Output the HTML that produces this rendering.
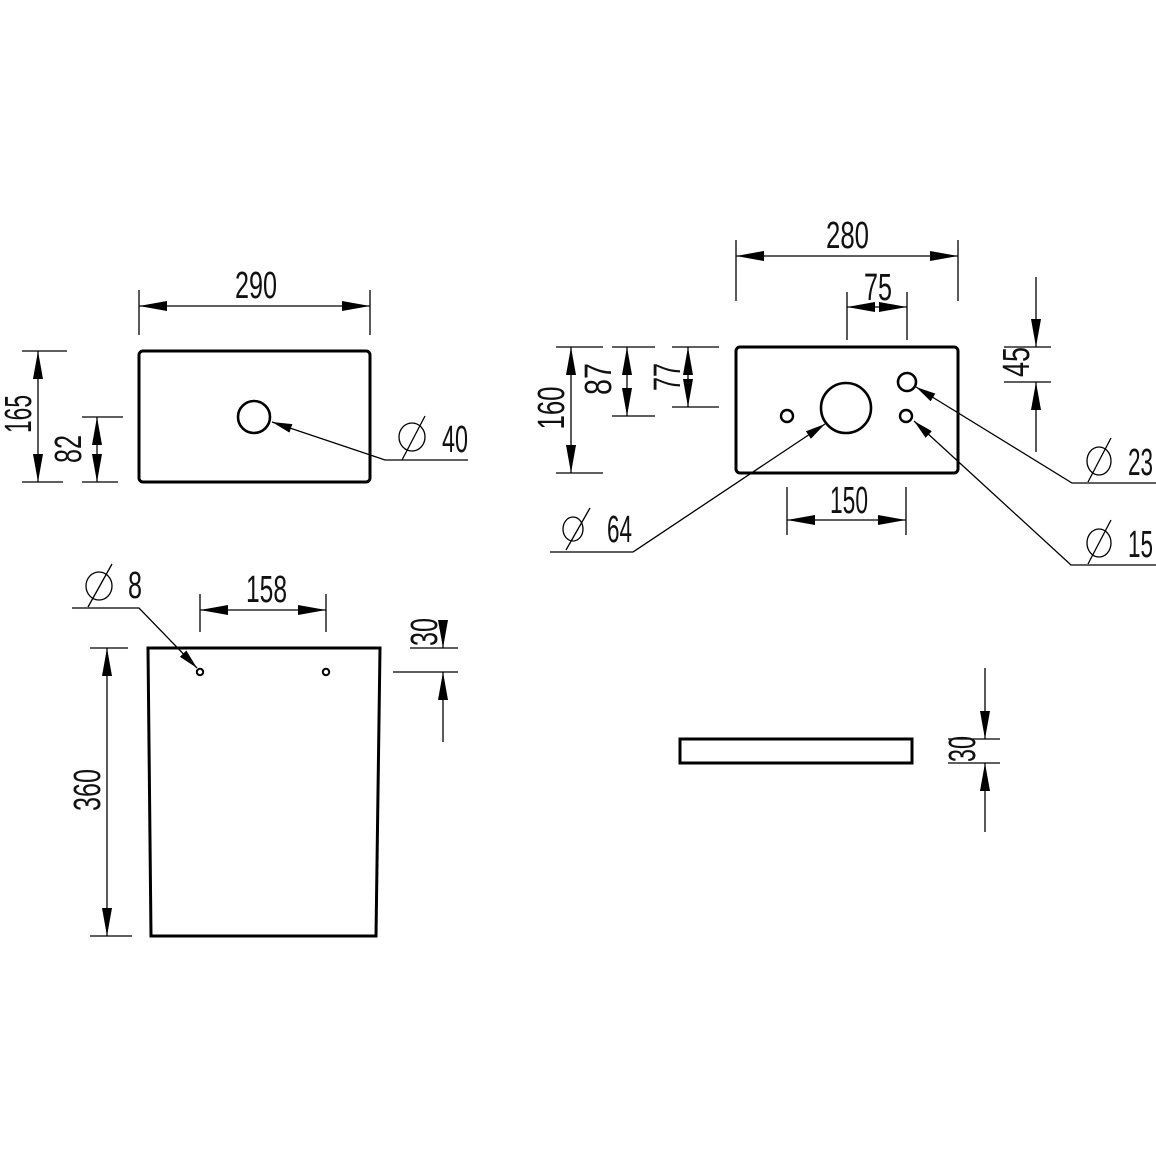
<!DOCTYPE html>
<html><head><meta charset="utf-8"><style>
html,body{margin:0;padding:0;background:#fff;}
svg{display:block}
text{font-family:"Liberation Sans",sans-serif;fill:#111;}
</style></head><body>
<svg width="1156" height="1156" viewBox="0 0 1156 1156" xmlns="http://www.w3.org/2000/svg">
<defs>
<marker id="a" markerUnits="userSpaceOnUse" markerWidth="28" markerHeight="10" refX="28" refY="5" orient="auto-start-reverse"><path d="M0,0 L28,5 L0,10 z" fill="#000"/></marker>
<marker id="l" markerUnits="userSpaceOnUse" markerWidth="20" markerHeight="9" refX="20" refY="4.5" orient="auto-start-reverse"><path d="M0,0 L20,4.5 L0,9 z" fill="#000"/></marker>
</defs>
<g stroke="#000" fill="none" stroke-width="1.3">
<!-- View 1 -->
<rect x="139" y="351" width="231" height="131" rx="4" stroke-width="3"/>
<circle cx="254" cy="417" r="16" stroke-width="2.6"/>
<line x1="139" y1="290" x2="139" y2="335"/><line x1="370" y1="290" x2="370" y2="335"/>
<line x1="139" y1="306" x2="370" y2="306" marker-start="url(#a)" marker-end="url(#a)"/>
<line x1="22" y1="351" x2="67" y2="351"/><line x1="22" y1="482" x2="63" y2="482"/>
<line x1="38" y1="351" x2="38" y2="482" marker-start="url(#a)" marker-end="url(#a)"/>
<line x1="82" y1="417" x2="123" y2="417"/><line x1="82" y1="482" x2="118" y2="482"/>
<line x1="97" y1="417" x2="97" y2="482" marker-start="url(#a)" marker-end="url(#a)"/>
<polyline points="468,460 385,460 272,422" marker-end="url(#l)"/>
<ellipse cx="412" cy="437" rx="13" ry="14"/><line x1="425" y1="416" x2="402" y2="460"/>

<!-- View 2 -->
<rect x="736" y="347" width="222" height="126" rx="4" stroke-width="3"/>
<circle cx="846" cy="408" r="25" stroke-width="2.6"/>
<circle cx="787" cy="416" r="6" stroke-width="2.4"/>
<circle cx="907" cy="382" r="9" stroke-width="2.6"/>
<circle cx="906" cy="416" r="6" stroke-width="2.4"/>
<line x1="736" y1="240" x2="736" y2="301"/><line x1="958" y1="240" x2="958" y2="301"/>
<line x1="736" y1="256" x2="958" y2="256" marker-start="url(#a)" marker-end="url(#a)"/>
<line x1="847" y1="292" x2="847" y2="340"/><line x1="907" y1="292" x2="907" y2="340"/>
<line x1="847" y1="307" x2="907" y2="307" marker-start="url(#a)" marker-end="url(#a)"/>
<line x1="1004" y1="347" x2="1051" y2="347"/><line x1="1004" y1="382" x2="1051" y2="382"/>
<line x1="1036" y1="277" x2="1036" y2="347" marker-end="url(#a)"/>
<line x1="1036" y1="452" x2="1036" y2="382" marker-end="url(#a)"/>
<line x1="556" y1="347" x2="603" y2="347"/><line x1="556" y1="473" x2="603" y2="473"/>
<line x1="571" y1="347" x2="571" y2="473" marker-start="url(#a)" marker-end="url(#a)"/>
<line x1="612" y1="347" x2="655" y2="347"/><line x1="612" y1="416" x2="655" y2="416"/>
<line x1="627" y1="347" x2="627" y2="416" marker-start="url(#a)" marker-end="url(#a)"/>
<line x1="672" y1="347" x2="719" y2="347"/><line x1="672" y1="407" x2="719" y2="407"/>
<line x1="688" y1="347" x2="688" y2="407" marker-start="url(#a)" marker-end="url(#a)"/>
<line x1="787" y1="487" x2="787" y2="535"/><line x1="906" y1="487" x2="906" y2="535"/>
<line x1="787" y1="520" x2="906" y2="520" marker-start="url(#a)" marker-end="url(#a)"/>
<polyline points="550,552 633,552 825,424" marker-end="url(#l)"/>
<ellipse cx="573" cy="529" rx="10" ry="12"/><line x1="590" y1="508" x2="566" y2="550"/>
<polyline points="1156,483 1072,483 916,387" marker-end="url(#l)"/>
<ellipse cx="1099" cy="461" rx="12" ry="14"/><line x1="1111" y1="438" x2="1088" y2="482"/>
<polyline points="1156,565 1071,565 914,421" marker-end="url(#l)"/>
<ellipse cx="1099" cy="543" rx="12" ry="14"/><line x1="1111" y1="520" x2="1088" y2="564"/>

<!-- View 3 -->
<polygon points="148,648 380,648 376,936 151,936" stroke-width="3"/>
<circle cx="200" cy="672" r="3.2" stroke-width="2"/>
<circle cx="326" cy="672" r="3.2" stroke-width="2"/>
<line x1="200" y1="594" x2="200" y2="632"/><line x1="326" y1="594" x2="326" y2="632"/>
<line x1="200" y1="610" x2="326" y2="610" marker-start="url(#a)" marker-end="url(#a)"/>
<polyline points="72,608 139,608 197,668" marker-end="url(#l)"/>
<ellipse cx="99" cy="586" rx="13" ry="14"/><line x1="112" y1="564" x2="88" y2="607"/>
<line x1="90" y1="648" x2="128" y2="648"/><line x1="90" y1="936" x2="132" y2="936"/>
<line x1="107" y1="648" x2="107" y2="936" marker-start="url(#a)" marker-end="url(#a)"/>
<line x1="410" y1="648" x2="458" y2="648"/><line x1="393" y1="672" x2="458" y2="672"/>
<line x1="443" y1="620" x2="443" y2="648" marker-end="url(#a)"/>
<line x1="443" y1="742" x2="443" y2="672" marker-end="url(#a)"/>

<!-- View 4 -->
<rect x="680" y="739" width="232" height="24" stroke-width="3"/>
<line x1="948" y1="739" x2="1000" y2="739"/><line x1="948" y1="763" x2="1000" y2="763"/>
<line x1="985" y1="668" x2="985" y2="739" marker-end="url(#a)"/>
<line x1="985" y1="832" x2="985" y2="763" marker-end="url(#a)"/>
</g>
<g font-size="38">
<text x="235" y="298" textLength="42" lengthAdjust="spacingAndGlyphs">290</text>
<text x="442" y="452" textLength="26" lengthAdjust="spacingAndGlyphs">40</text>
<text transform="translate(31,414) rotate(-90)" text-anchor="middle" textLength="38" lengthAdjust="spacingAndGlyphs">165</text>
<text transform="translate(81,449) rotate(-90)" text-anchor="middle" textLength="28" lengthAdjust="spacingAndGlyphs">82</text>
<text x="826" y="248" textLength="43" lengthAdjust="spacingAndGlyphs">280</text>
<text x="864" y="300" textLength="28" lengthAdjust="spacingAndGlyphs">75</text>
<text x="830" y="513" textLength="38" lengthAdjust="spacingAndGlyphs">150</text>
<text x="607" y="542" textLength="25" lengthAdjust="spacingAndGlyphs">64</text>
<text x="1128" y="475" textLength="25" lengthAdjust="spacingAndGlyphs">23</text>
<text x="1128" y="557" textLength="25" lengthAdjust="spacingAndGlyphs">15</text>
<text transform="translate(564,408) rotate(-90)" text-anchor="middle" textLength="43" lengthAdjust="spacingAndGlyphs">160</text>
<text transform="translate(611,379) rotate(-90)" text-anchor="middle" textLength="32" lengthAdjust="spacingAndGlyphs">87</text>
<text transform="translate(680,377) rotate(-90)" text-anchor="middle" textLength="28" lengthAdjust="spacingAndGlyphs">77</text>
<text transform="translate(1029,362) rotate(-90)" text-anchor="middle" textLength="30" lengthAdjust="spacingAndGlyphs">45</text>
<text x="246" y="602" textLength="41" lengthAdjust="spacingAndGlyphs">158</text>
<text x="128" y="598" textLength="14" lengthAdjust="spacingAndGlyphs">8</text>
<text transform="translate(100,790) rotate(-90)" text-anchor="middle" textLength="42" lengthAdjust="spacingAndGlyphs">360</text>
<text transform="translate(437,632) rotate(-90)" text-anchor="middle" textLength="28" lengthAdjust="spacingAndGlyphs">30</text>
<text transform="translate(975,749) rotate(-90)" text-anchor="middle" textLength="26" lengthAdjust="spacingAndGlyphs">30</text>
</g>
</svg>
</body></html>
